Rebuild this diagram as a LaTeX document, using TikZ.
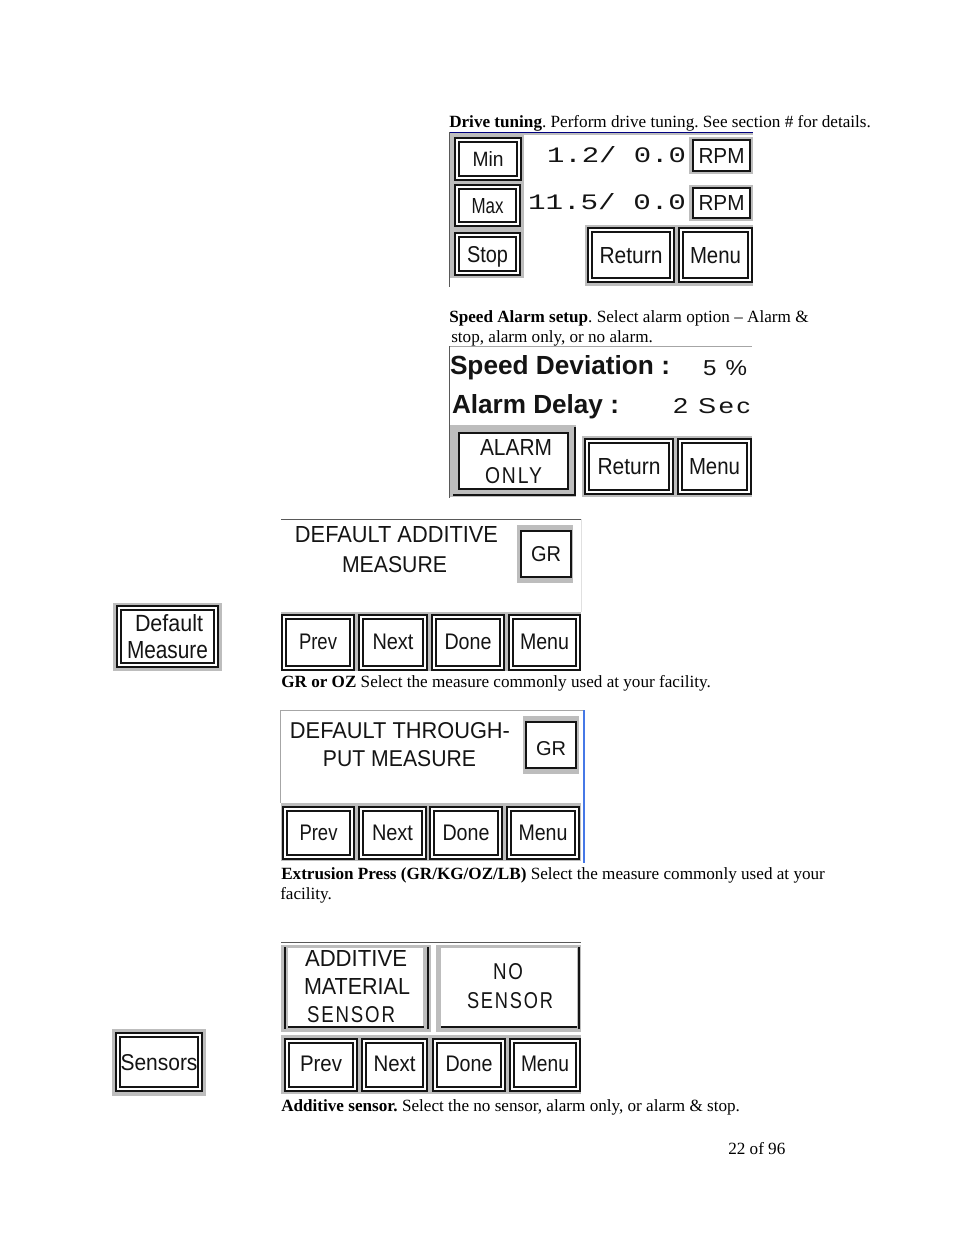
\documentclass[tikz,border=0pt]{standalone}
\usepackage{graphicx}
\usepackage{fontspec}
\setmainfont{Liberation Serif}
\newfontfamily\lcd{Liberation Sans}
\newfontfamily\lcdw[LetterSpace=10]{Liberation Sans}
\newfontfamily\lcdm{Liberation Mono}
\definecolor{bgrey}{gray}{0.74}
\definecolor{inkc}{gray}{0.08}
\definecolor{edgeblue}{RGB}{70,120,230}
\frenchspacing
\tikzset{
  x=0.75pt,y=-0.75pt,
  body/.style={anchor=base west,inner sep=0pt,font=\fontsize{12.85pt}{15pt}\selectfont,text=black},
  dbl/.style={draw=inkc,line width=1.6pt,double=white,double distance=1.2pt,fill=white,inner sep=0pt,text=inkc},
  sgl/.style={draw=inkc,line width=1.5pt,fill=white,inner sep=0pt,text=inkc},
  lab/.style={anchor=base,inner sep=0pt,text=inkc},
  frameline/.style={line width=0.75pt,draw=black!65},
  greyfill/.style={fill=bgrey,draw=none},
}
% double-framed button: [options]{x0}{y0}{x1}{y1}{text w}{text h}{text}
\newcommand\btn[8][]{%
  \pgfmathsetmacro\bw{(#4-#2-5.87)*0.75}%
  \pgfmathsetmacro\bh{(#5-#3-5.87)*0.75}%
  \pgfmathsetmacro\tw{#6*0.75}%
  \pgfmathsetmacro\th{#7*0.75}%
  \node[dbl,minimum width=\bw pt,minimum height=\bh pt,text height=\th pt,text depth=0pt,#1] (b#2x#3) at ({(#2+#4)/2},{(#3+#5)/2}) {\resizebox{\tw pt}{\th pt}{\lcd #8}};%
}
% single-framed button
\newcommand\sbtn[8][]{%
  \pgfmathsetmacro\bw{(#4-#2-2)*0.75}%
  \pgfmathsetmacro\bh{(#5-#3-2)*0.75}%
  \pgfmathsetmacro\tw{#6*0.75}%
  \pgfmathsetmacro\th{#7*0.75}%
  \node[sgl,minimum width=\bw pt,minimum height=\bh pt,text height=\th pt,text depth=0pt,#1] (b#2x#3) at ({(#2+#4)/2},{(#3+#5)/2}) {\resizebox{\tw pt}{\th pt}{\lcd #8}};%
}
% [font]{x0}{x1}{baseline}{h}{text}
\newcommand\lbl[6][\lcd]{%
  \pgfmathsetmacro\tw{(#3-#2)*0.75}%
  \pgfmathsetmacro\th{#5*0.75}%
  \node[lab] (l#2x#4) at ({(#2+#3)/2},#4) {\resizebox{\tw pt}{\th pt}{#1{#6}}};%
}
\begin{document}
\begin{tikzpicture}
\useasboundingbox (0,0) rectangle (954,1235);
\fill[white] (0,0) rectangle (954,1235);

% --- Panel 1
\node[body] (t1) at (449,127) {\textbf{Drive tuning}. Perform drive tuning. See section \# for details.};
\fill[greyfill] (449,133) rectangle (753,135);
\fill[greyfill] (449,135) rectangle (524,278);
\fill[greyfill] (585,225) rectangle (753,286);
\fill[greyfill] (689,137) rectangle (753,174);
\fill[greyfill] (689,185) rectangle (753,221);
\draw[draw=blue!50!black,line width=0.75pt] (449,132.5) -- (753,132.5);
\draw[frameline] (449.5,132) -- (449.5,287);
\btn{454}{137}{522}{181}{31}{15}{Min}
\btn{454}{184}{521}{227}{32}{15}{Max}
\btn{454}{232}{521}{276}{41}{16}{Stop}
\lbl[\lcdm]{547}{686}{162}{16}{1.2/ 0.0}
\lbl[\lcdm]{528}{686}{209}{16}{11.5/ 0.0}
\sbtn{692}{139}{751}{172}{46}{15}{RPM}
\sbtn{692}{187}{751}{219}{46}{15}{RPM}
\btn{587}{227}{675}{283}{63}{16}{Return}
\btn{678}{227}{753}{283}{51}{16}{Menu}

% --- Panel 2
\node[body] (t2) at (449,322) {\textbf{Speed Alarm setup}. Select alarm option -- Alarm \&};
\node[body] (t2b) at (451,342) {stop, alarm only, or no alarm.};
\draw[frameline,black!35] (449,346.5) -- (752,346.5);
\draw[frameline] (449.5,346) -- (449.5,498);
\lbl[\bfseries\lcd]{450}{670}{374}{19}{Speed Deviation :}
\lbl[\bfseries\lcd]{452}{619}{413}{19}{Alarm Delay :}
\lbl[\lcdw]{703}{747}{375}{15}{5 \%}
\lbl[\lcdw]{673}{750}{413}{15}{2 Sec}
\fill[greyfill] (450,425) rectangle (576,497);
\fill[greyfill] (582,436) rectangle (752,497);
\fill[inkc] (453,493.5) rectangle (576,495.5);
\fill[inkc] (573.5,427) rectangle (575.5,495);
\node[sgl,minimum width=81.75pt,minimum height=42pt] (alarm) at (513.5,461) {};
\lbl{480}{552}{455}{16}{ALARM}
\lbl[\lcdw]{485}{542}{483}{16}{ONLY}
\btn{584}{438}{674}{495}{63}{16}{Return}
\btn{677}{438}{752}{495}{51}{16}{Menu}

% --- Panel 3
\draw[frameline] (281,519.5) -- (581,519.5);
\draw[black!12,line width=0.75pt] (581,519) -- (581,612);
\lbl{295}{498}{542}{16}{DEFAULT ADDITIVE}
\lbl{342}{447}{572}{16}{MEASURE}
\fill[greyfill] (517,525) rectangle (573,583);
\sbtn{520}{530}{572}{578}{30}{15}{GR}
\fill[greyfill] (113,603) rectangle (222,671);
\node[dbl,minimum width=72.8pt,minimum height=42.8pt] (defmeasure) at (167.5,636.5) {};
\lbl{135}{203}{631}{17}{Default}
\lbl{127}{208}{658}{17}{Measure}
\fill[greyfill] (281,612) rectangle (581,671);
\btn[text depth=1.5pt]{281}{614}{355}{671}{38}{15.5}{Prev}
\btn[text depth=1.5pt]{358}{614}{428}{671}{41}{15.5}{Next}
\btn[text depth=1.5pt]{431}{614}{505}{671}{47}{15.5}{Done}
\btn[text depth=1.5pt]{508}{614}{581}{671}{49}{15.5}{Menu}
\node[body] (t3) at (281,687) {\textbf{GR or OZ} Select the measure commonly used at your facility.};

% --- Panel 4
\draw[frameline,black!35] (280,710.5) -- (583,710.5);
\draw[frameline,black!35] (280.5,710) -- (280.5,803);
\draw[edgeblue,line width=0.9pt] (584,710) -- (584,863);
\lbl{290}{510}{738}{16}{DEFAULT THROUGH-}
\lbl{323}{476}{766}{16}{PUT MEASURE}
\fill[greyfill] (523,716) rectangle (579,774);
\sbtn[text height=15pt]{525}{721}{577}{769}{30}{14}{GR}
\fill[greyfill] (281,803) rectangle (581,861);
\btn{282}{806}{355}{860}{38}{15.5}{Prev}
\btn{358}{806}{427}{860}{41}{15.5}{Next}
\btn{429}{806}{503}{860}{47}{15.5}{Done}
\btn{506}{806}{580}{860}{49}{15.5}{Menu}
\node[body] (t4) at (281,879) {\textbf{Extrusion Press (GR/KG/OZ/LB)} Select the measure commonly used at your};
\node[body] (t4b) at (280,899) {facility.};

% --- Panel 5
\draw[frameline] (281,942.5) -- (581,942.5);
\fill[greyfill] (281,945) rectangle (431,1032);
\fill[greyfill] (436,945) rectangle (581,1032);
\fill[white] (288,948) rectangle (423,1027);
\fill[white] (441,948) rectangle (577,1026);
\fill[inkc] (283.5,947) rectangle (285.5,1029);
\fill[inkc] (427,947) rectangle (429,1029);
\fill[inkc] (288,1026) rectangle (424,1028);
\fill[inkc] (577.5,947) rectangle (579.5,1029);
\fill[inkc] (441,1025.5) rectangle (577,1027.5);
\lbl{305}{407}{966}{16}{ADDITIVE}
\lbl{304}{410}{994}{16}{MATERIAL}
\lbl[\lcdw]{307}{395}{1022}{16}{SENSOR}
\lbl[\lcdw]{493}{523}{979}{16}{NO}
\lbl[\lcdw]{467}{553}{1008}{16}{SENSOR}
\fill[greyfill] (112,1029) rectangle (206,1096);
\btn{115}{1032}{203}{1092}{77}{16}{Sensors}
\fill[greyfill] (281,1035) rectangle (581,1094);
\btn[text depth=2pt]{284}{1038}{358}{1092}{42}{15.5}{Prev}
\btn[text depth=2pt]{361}{1038}{428}{1092}{42}{15.5}{Next}
\btn[text depth=2pt]{432}{1038}{506}{1092}{47}{15.5}{Done}
\btn[text depth=2pt]{509}{1038}{581}{1092}{48}{15.5}{Menu}
\node[body] (t5) at (281,1111) {\textbf{Additive sensor.} Select the no sensor, alarm only, or alarm \& stop.};
\node[body] (pg) at (728,1154) {22 of 96};
\end{tikzpicture}
\end{document}
